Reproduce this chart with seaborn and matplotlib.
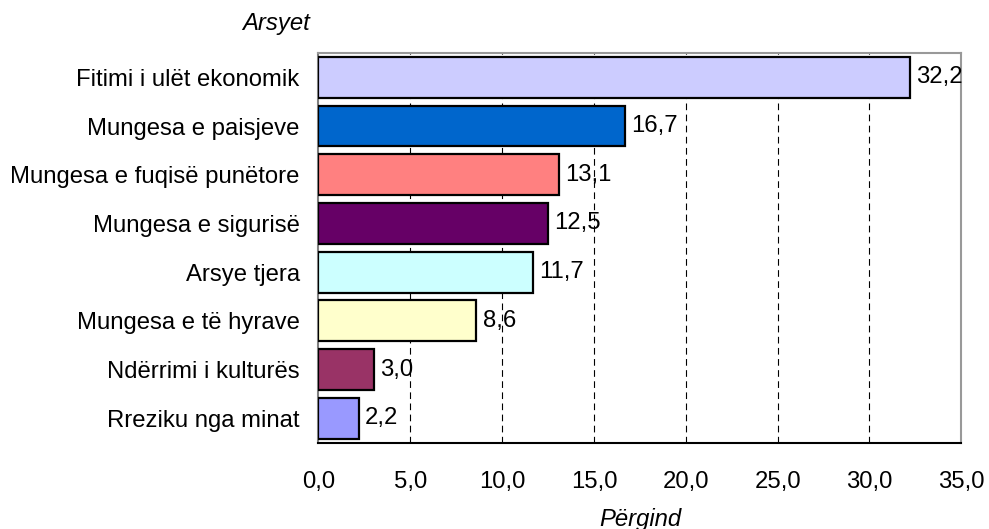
import numpy as np
import matplotlib.pyplot as plt
import pandas as pd
import seaborn as sns

# ====================================================================
#   DATA
# ====================================================================
reasons = [
    'Fitimi i ulët ekonomik',
    'Mungesa e paisjeve',
    'Mungesa e fuqisë punëtore',
    'Mungesa e sigurisë',
    'Arsye tjera',
    'Mungesa e të hyrave',
    'Ndërrimi i kulturës',
    'Rreziku nga minat',
]
percent = [32.2, 16.7, 13.1, 12.5, 11.7, 8.6, 3.0, 2.2]
bar_colors = ['#CCCCFF', '#0066CC', '#FF8080', '#660066',
              '#CCFFFF', '#FFFFCC', '#993366', '#9999FF']
xticks = [0, 5, 10, 15, 20, 25, 30, 35]

df = pd.DataFrame({'reason': reasons, 'percent': percent})

FS = 17.2

# ====================================================================
#   PLOT
# ====================================================================
sns.set_style('white')
plt.rcParams['font.family'] = ['Liberation Sans', 'DejaVu Sans']
plt.rcParams['text.color'] = 'black'
plt.rcParams['xtick.color'] = 'black'
plt.rcParams['ytick.color'] = 'black'
plt.rcParams['axes.labelcolor'] = 'black'

fig, ax = plt.subplots(figsize=(9.89, 5.29), dpi=100)
fig.subplots_adjust(left=0.322, right=0.972, top=0.900, bottom=0.163)

sns.barplot(data=df, x='percent', y='reason', hue='reason',
            palette=bar_colors, legend=False, orient='h',
            width=0.84, edgecolor='black', linewidth=1.6,
            saturation=1, ax=ax, zorder=3)

for i, v in enumerate(percent):
    ax.annotate(f'{v:.1f}'.replace('.', ','), (v, i),
                xytext=(4.5, 0), textcoords='offset points',
                va='center', ha='left', fontsize=FS, zorder=4)

ax.set_xlim(0, 35)
ax.set_ylim(len(reasons) - 0.5, -0.5)
ax.set_xticks(xticks)
ax.set_xticklabels([f'{t:.1f}'.replace('.', ',') for t in xticks], fontsize=FS)
ax.tick_params(axis='x', length=0, pad=20)
ax.tick_params(axis='y', length=0, labelsize=FS, pad=13.5)

for t in xticks[1:-1]:
    ax.axvline(t, color='black', linestyle=(0, (6, 4)), linewidth=0.8, zorder=1)

ax.spines['left'].set_color('#808080')
ax.spines['bottom'].set_color('black')
ax.spines['top'].set_color('#999999')
ax.spines['right'].set_color('#999999')
for s in ax.spines.values():
    s.set_linewidth(1.5)

ax.set_xlabel('Përgind', fontsize=FS, style='italic', labelpad=11)
ax.set_ylabel('')
fig.text(0.279, 0.956, 'Arsyet', fontsize=FS, style='italic', ha='center', va='center')

plt.savefig('out.png', dpi=100)
